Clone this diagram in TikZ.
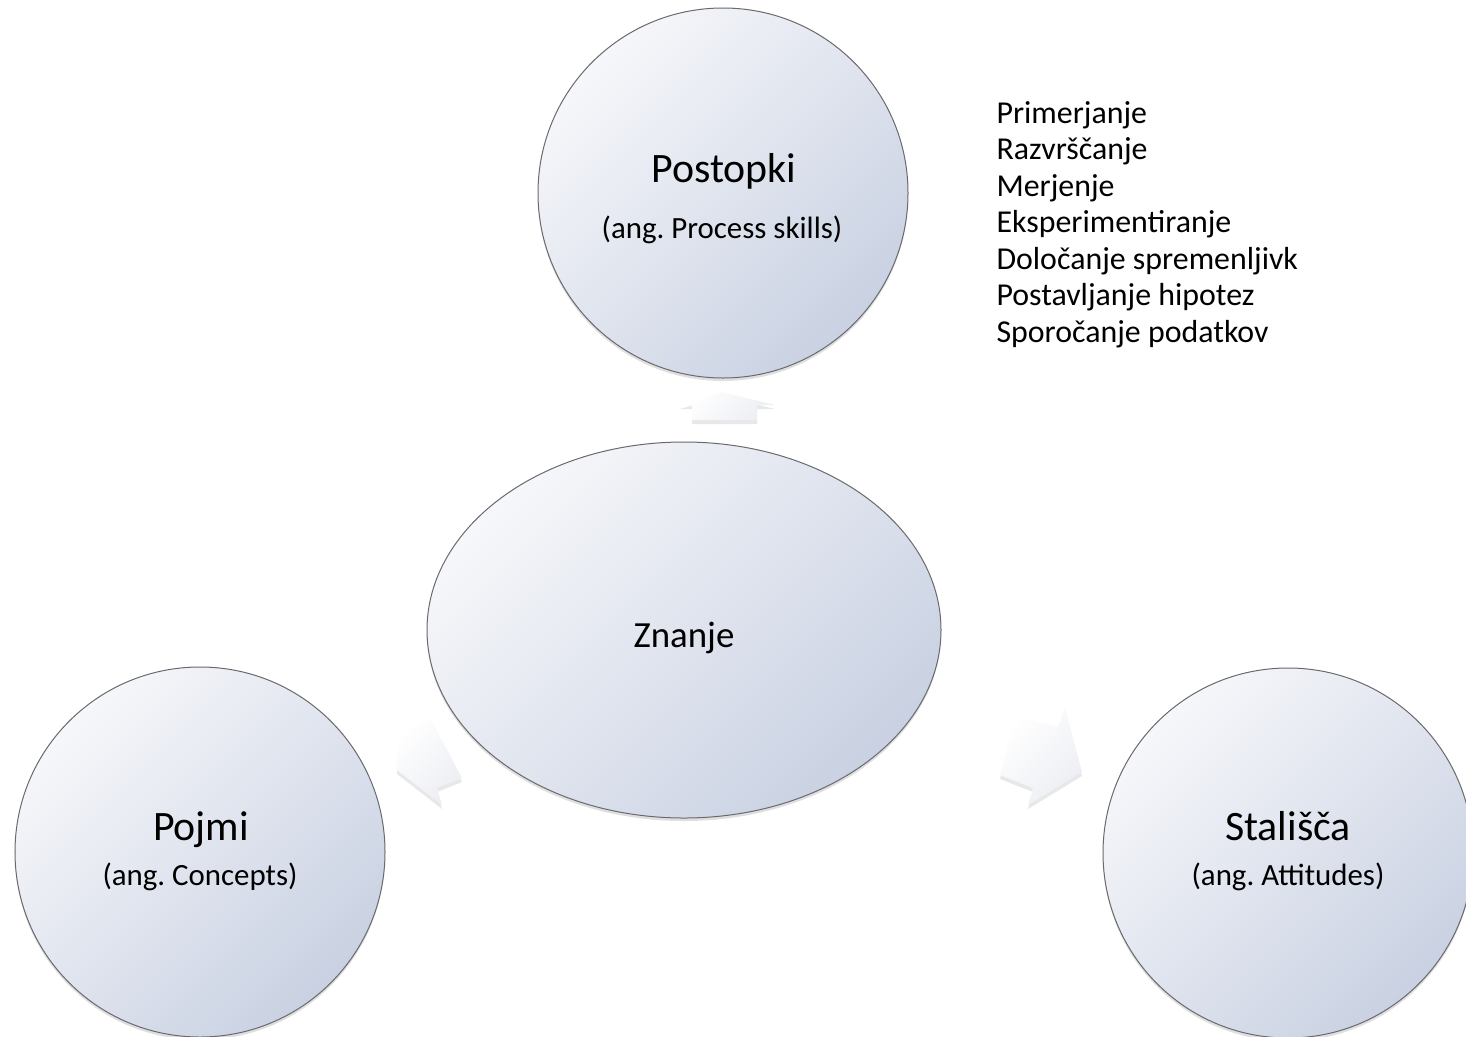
\documentclass[tikz,border=0pt]{standalone}
\usepackage{fontspec}
\setmainfont{Carlito}
\frenchspacing
\usepackage{tikz}
\usetikzlibrary{shapes.geometric, shadows}
\definecolor{bublight}{RGB}{246,247,250}
\definecolor{bubdark}{RGB}{201,209,226}
\definecolor{bubedge}{RGB}{105,105,110}
\definecolor{arrdark}{RGB}{236,238,243}
\tikzset{
  bubblebase/.style={draw=bubedge, line width=1bp, inner sep=0pt,
    top color=bublight, bottom color=bubdark, shading angle=45,
    drop shadow={opacity=0.25, shadow xshift=0bp, shadow yshift=-3bp}},
  bubble/.style={circle, minimum size=370bp, bubblebase},
  hub/.style={ellipse, minimum width=514bp, minimum height=376bp, bubblebase},
  blockarrow/.style={top color=white, bottom color=arrdark, shading angle=45,
    drop shadow={opacity=0.18, shadow xshift=0bp, shadow yshift=-4bp}},
  titletext/.style={anchor=base, font=\fontsize{42}{48}\selectfont},
  subtext/.style={anchor=base, font=\fontsize{31}{36}\selectfont},
  skilltext/.style={anchor=base west, font=\fontsize{32}{38}\selectfont}
}

\begin{document}
\begin{tikzpicture}[x=1bp, y=-1bp]
  \useasboundingbox (0,0) rectangle (1466,1036);

  % Bubbles
  \node[hub] (znanje) at (684,630) {};
  \node[bubble] (postopki) at (723,193) {};
  \node[bubble] (pojmi) at (200,852) {};
  \node[bubble] (stalisca) at (1288,853) {};

  % Block arrows out of the hub
  \path[blockarrow] (680,405) -- (722,392) -- (775,405) -- (757,405)
    -- (757,420) -- (692,420) -- (692,405) -- cycle;
  \path[blockarrow] (402,713) -- (410,728) -- (430,718) -- (462,778)
    -- (437,788) -- (442,805) -- (397,770) -- cycle;
  \path[blockarrow] (1015,715) -- (1058,727) -- (1065,708) -- (1082,772)
    -- (1028,805) -- (1033,788) -- (1000,775) -- cycle;

  % Labels
  \node[titletext, font=\fontsize{37}{44}\selectfont] (znanjeT) at (684,647) {Znanje};
  \node[titletext] (postopkiT) at (724,182) {Postopki};
  \node[subtext] (postopkiS) at (722,238) {(ang. Process skills)};
  \node[titletext] (pojmiT) at (201,840) {Pojmi};
  \node[subtext] (pojmiS) at (200,885) {(ang. Concepts)};
  \node[titletext] (staliscaT) at (1288,840) {Stališča};
  \node[subtext] (staliscaS) at (1288,885) {(ang. Attitudes)};

  % Process skills list
  \foreach \skill [count=\i from 0] in {Primerjanje, Razvrščanje, Merjenje,
      Eksperimentiranje, Določanje spremenljivk, Postavljanje hipotez,
      Sporočanje podatkov}
    \node[skilltext] (skill\i) at (993,123+36.5*\i) {\skill};
\end{tikzpicture}
\end{document}
